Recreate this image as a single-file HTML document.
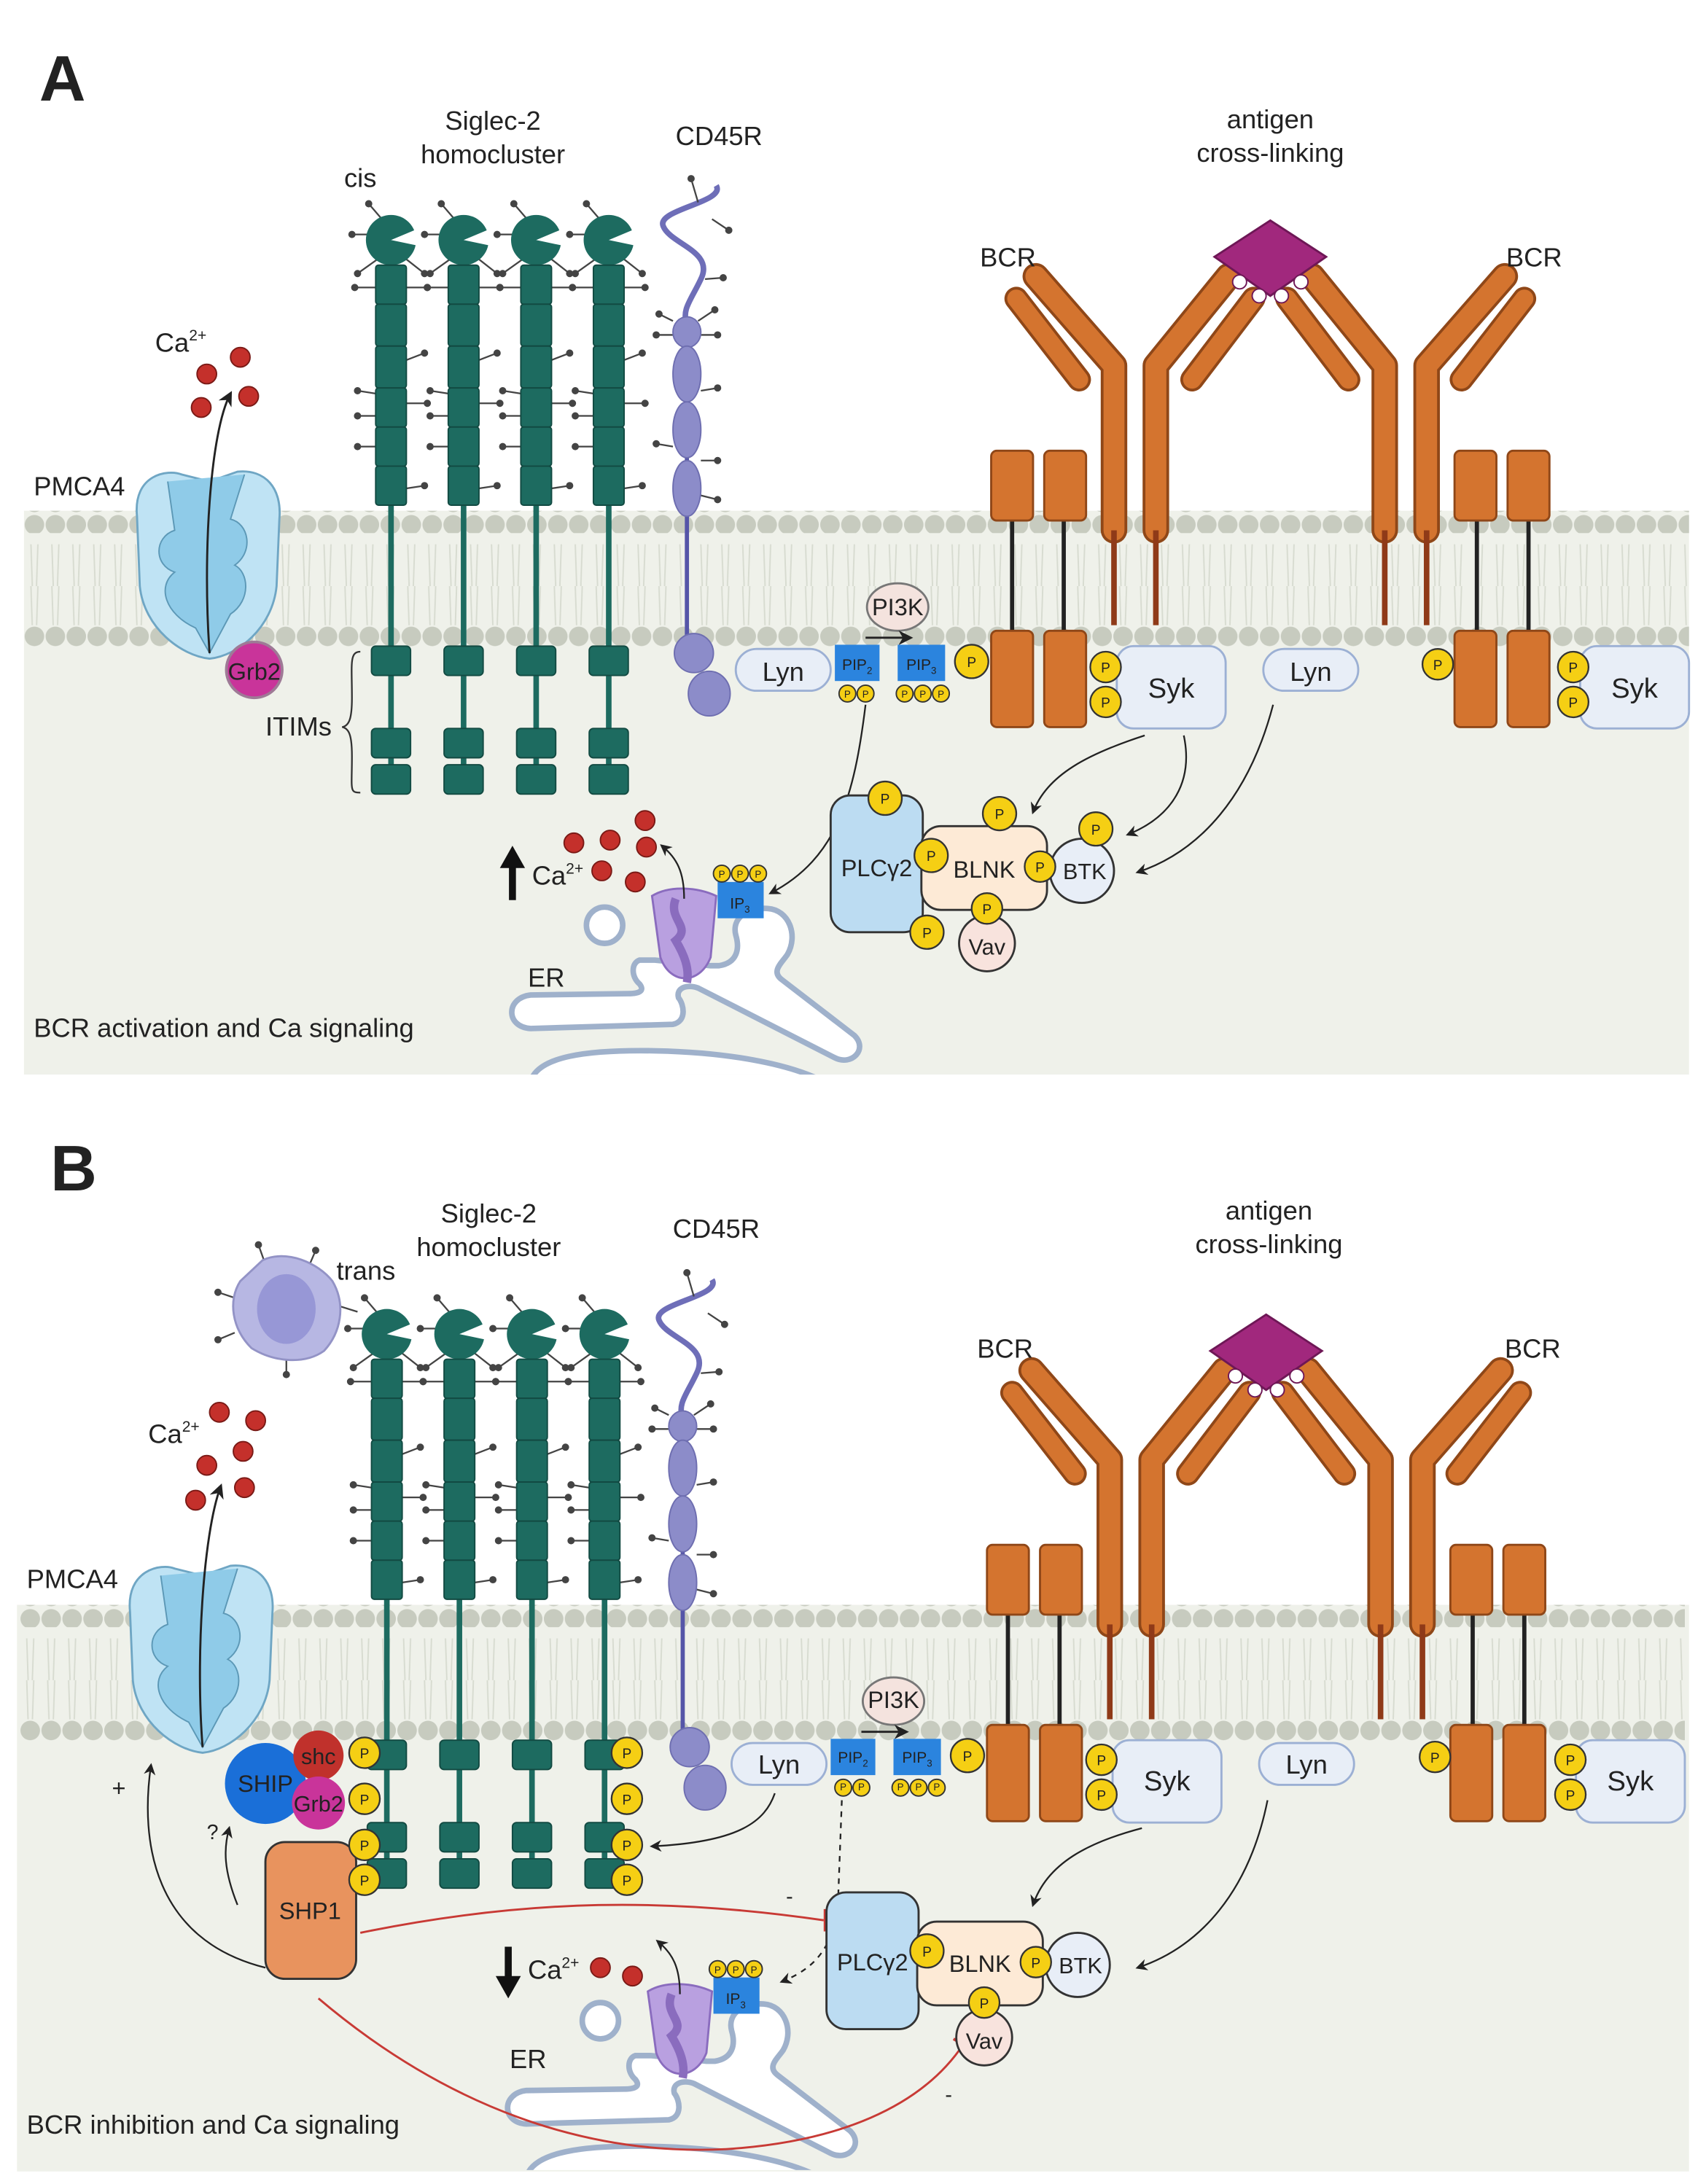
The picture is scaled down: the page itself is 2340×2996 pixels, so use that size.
<!DOCTYPE html>
<html><head><meta charset="utf-8"><style>
html,body{margin:0;padding:0;background:#fff}
svg{display:block}
text{font-family:"Liberation Sans",sans-serif;fill:#222}
</style></head><body>
<svg width="2340" height="2996" viewBox="0 0 1222 1565" xmlns="http://www.w3.org/2000/svg">
<defs>
<clipPath id="erclip"><rect x="17" y="560" width="1193" height="210"/></clipPath>
<pattern id="heads" x="17" y="0" width="15" height="16" patternUnits="userSpaceOnUse"><circle cx="7.5" cy="8" r="7" fill="#c7cbbf"/></pattern>
<pattern id="tails" x="17" y="0" width="15" height="70" patternUnits="userSpaceOnUse"><path d="M5 0 L6 30 M10 0 L9 30 M5 40 L6 70 M10 40 L9 70" stroke="#d7dbd0" stroke-width="1" fill="none"/></pattern>
<marker id="ar" viewBox="0 0 10 10" refX="8" refY="5" markerWidth="7" markerHeight="7" orient="auto"><path d="M0 0 L10 5 L0 10 L3 5Z" fill="#222"/></marker>
<g id="sig">
 <line x1="0" y1="360" x2="0" y2="568" stroke="#1d6b60" stroke-width="4"/>
 <g stroke="#444" stroke-width="1.2" fill="#444">
  <line x1="-4" y1="160" x2="-16" y2="146"/><circle cx="-16" cy="146" r="2"/>
  <line x1="10" y1="185" x2="24" y2="196"/><circle cx="24" cy="196" r="2"/>
  <line x1="-10" y1="186" x2="-24" y2="196"/><circle cx="-24" cy="196" r="2"/>
  <line x1="-12" y1="168" x2="-28" y2="168"/><circle cx="-28" cy="168" r="2"/>
  <line x1="11" y1="206" x2="26" y2="206"/><circle cx="26" cy="206" r="2"/>
  <line x1="-11" y1="206" x2="-26" y2="206"/><circle cx="-26" cy="206" r="2"/>
  <line x1="11" y1="258" x2="24" y2="253"/><circle cx="24" cy="253" r="2"/>
  <line x1="-11" y1="282" x2="-24" y2="280"/><circle cx="-24" cy="280" r="2"/>
  <line x1="11" y1="289" x2="26" y2="289"/><circle cx="26" cy="289" r="2"/>
  <line x1="-11" y1="298" x2="-24" y2="298"/><circle cx="-24" cy="298" r="2"/>
  <line x1="-11" y1="320" x2="-24" y2="320"/><circle cx="-24" cy="320" r="2"/>
  <line x1="11" y1="350" x2="24" y2="348"/><circle cx="24" cy="348" r="2"/>
 </g>
 <circle cx="0" cy="172" r="18" fill="#1d6b60"/>
 <path d="M0 172 L19 164 L19 176Z" fill="#fff"/>
 <g fill="#1d6b60" stroke="#124a42" stroke-width="1">
  <rect x="-11" y="190" width="22" height="28" rx="2"/><rect x="-11" y="218" width="22" height="30" rx="2"/>
  <rect x="-11" y="248" width="22" height="30" rx="2"/><rect x="-11" y="278" width="22" height="28" rx="2"/>
  <rect x="-11" y="306" width="22" height="28" rx="2"/><rect x="-11" y="334" width="22" height="28" rx="2"/>
  <rect x="-14" y="463" width="28" height="21" rx="3"/><rect x="-14" y="522" width="28" height="21" rx="3"/>
  <rect x="-14" y="548" width="28" height="21" rx="3"/>
 </g>
</g>
<g id="bcr">
 <g stroke-linecap="round" stroke-linejoin="round" fill="none">
  <path d="M798 380 L798 262 L742 198" stroke="#8f4718" stroke-width="19"/>
  <path d="M798 380 L798 262 L742 198" stroke="#d4742f" stroke-width="15"/>
  <path d="M828 380 L828 262 L880 198" stroke="#8f4718" stroke-width="19"/>
  <path d="M828 380 L828 262 L880 198" stroke="#d4742f" stroke-width="15"/>
  <path d="M773 272 L728 214" stroke="#8f4718" stroke-width="17"/>
  <path d="M773 272 L728 214" stroke="#d4742f" stroke-width="13"/>
  <path d="M854 272 L898 214" stroke="#8f4718" stroke-width="17"/>
  <path d="M854 272 L898 214" stroke="#d4742f" stroke-width="13"/>
 </g>
 <line x1="798" y1="380" x2="798" y2="448" stroke="#8f3a18" stroke-width="4"/>
 <line x1="828" y1="380" x2="828" y2="448" stroke="#8f3a18" stroke-width="4"/>
 <line x1="725" y1="370" x2="725" y2="455" stroke="#222" stroke-width="3"/>
 <line x1="762" y1="370" x2="762" y2="455" stroke="#222" stroke-width="3"/>
 <g fill="#d4742f" stroke="#8f4718" stroke-width="1.5">
  <rect x="710" y="323" width="30" height="50" rx="4"/><rect x="748" y="323" width="30" height="50" rx="4"/>
  <rect x="710" y="452" width="30" height="69" rx="4"/><rect x="748" y="452" width="30" height="69" rx="4"/>
 </g>
</g>
<g id="mem">
 <rect x="17" y="366" width="1193" height="16" fill="url(#heads)"/>
 <rect x="17" y="382" width="1193" height="66" fill="url(#tails)"/>
 <rect x="17" y="448" width="1193" height="16" fill="url(#heads)"/>
 <use href="#sig" x="280"/><use href="#sig" x="332"/><use href="#sig" x="384"/><use href="#sig" x="436"/>
 <path d="M513 133 C520 145 470 150 475 162 C480 175 512 180 502 200 C495 215 488 222 492 232" stroke="#6e6eb8" stroke-width="4" fill="none"/>
 <line x1="492" y1="240" x2="492" y2="462" stroke="#5555a8" stroke-width="3"/>
 <g stroke="#444" stroke-width="1.2" fill="#444">
  <line x1="500" y1="145" x2="495" y2="128"/><circle cx="495" cy="128" r="2"/>
  <line x1="510" y1="157" x2="522" y2="165"/><circle cx="522" cy="165" r="2"/>
  <line x1="505" y1="200" x2="518" y2="199"/><circle cx="518" cy="199" r="2"/>
  <line x1="482" y1="230" x2="472" y2="225"/><circle cx="472" cy="225" r="2"/>
  <line x1="500" y1="230" x2="512" y2="222"/><circle cx="512" cy="222" r="2"/>
  <line x1="482" y1="240" x2="470" y2="240"/><circle cx="470" cy="240" r="2"/>
  <line x1="502" y1="240" x2="514" y2="240"/><circle cx="514" cy="240" r="2"/>
  <line x1="502" y1="280" x2="514" y2="278"/><circle cx="514" cy="278" r="2"/>
  <line x1="482" y1="320" x2="470" y2="318"/><circle cx="470" cy="318" r="2"/>
  <line x1="502" y1="330" x2="514" y2="330"/><circle cx="514" cy="330" r="2"/>
  <line x1="502" y1="355" x2="514" y2="358"/><circle cx="514" cy="358" r="2"/>
 </g>
 <g fill="#8c8cc9" stroke="#6e6eb0" stroke-width="1">
  <ellipse cx="492" cy="238" rx="10" ry="11"/><ellipse cx="492" cy="268" rx="10" ry="20"/>
  <ellipse cx="492" cy="308" rx="10" ry="20"/><ellipse cx="492" cy="350" rx="10" ry="20"/>
  <circle cx="497" cy="468" r="14"/><ellipse cx="508" cy="497" rx="15" ry="16"/>
 </g>
 <use href="#bcr"/>
 <use href="#bcr" transform="translate(1820,0) scale(-1,1)"/>
 <path d="M910 158 L950 184 L910 212 L870 184Z" fill="#a1287d" stroke="#6e1756" stroke-width="1.5"/>
 <g fill="#fff" stroke="#6e1756" stroke-width="1"><circle cx="888" cy="202" r="5"/><circle cx="902" cy="212" r="5"/><circle cx="918" cy="212" r="5"/><circle cx="932" cy="202" r="5"/></g>
 <g fill="#e8eef7" stroke="#9cb0d4" stroke-width="1.5">
  <rect x="800" y="463" width="78" height="59" rx="12"/><rect x="1132" y="463" width="78" height="59" rx="12"/>
  <rect x="527" y="465" width="68" height="30" rx="15"/><rect x="905" y="465" width="68" height="30" rx="15"/>
 </g>
 <ellipse cx="643" cy="435" rx="22" ry="17" fill="#f4e3de" stroke="#777" stroke-width="1.5"/>
 <line x1="620" y1="457" x2="652" y2="457" stroke="#222" stroke-width="1.5" marker-end="url(#ar)"/>
 <rect x="598" y="462" width="32" height="26" fill="#2b84de"/><rect x="643" y="462" width="34" height="26" fill="#2b84de"/>
 <g fill="#f5cf14" stroke="#333" stroke-width="1">
  <circle cx="607" cy="497" r="6"/><circle cx="620" cy="497" r="6"/>
  <circle cx="648" cy="497" r="6"/><circle cx="661" cy="497" r="6"/><circle cx="674" cy="497" r="6"/>
 </g>
</g>
<g id="er">
 <g clip-path="url(#erclip)" fill="#fff" stroke="#9fb1cb" stroke-width="4">
  <circle cx="433" cy="663" r="13"/>
  <path d="M380 775 C385 757 420 752 470 753 C520 754 565 762 590 775 Z"/>
  <path d="M469 688 L458 688 C452 690 452 700 458 705 C462 710 458 712 450 712 L380 713 C362 715 362 736 380 737 L482 734 C492 732 490 720 486 715 C484 708 492 705 500 708 L598 758 C610 764 622 752 612 742 L560 702 C552 696 560 690 564 684 C572 670 565 652 550 651 C535 650 524 658 527 670 C530 680 528 690 515 692 L509 692 Z"/>
 </g>
 <path d="M467 642 C480 634 500 636 513 642 L509 686 C501 706 480 706 473 686Z" fill="#b9a0e0" stroke="#8a6cbe" stroke-width="1.5"/>
 <path d="M484 644 C478 659 496 664 484 674 C490 684 494 694 492 704" stroke="#8a6cbe" stroke-width="6" fill="none"/>
 <path d="M490 644 C490 625 485 615 474 606" stroke="#222" stroke-width="1.2" fill="none" marker-end="url(#ar)"/>
 <rect x="514" y="632" width="33" height="26" fill="#2b84de"/>
 <g fill="#f5cf14" stroke="#333" stroke-width="1"><circle cx="517" cy="626" r="6"/><circle cx="530" cy="626" r="6"/><circle cx="543" cy="626" r="6"/></g>
</g>
</defs>

<!-- backgrounds -->
<rect x="17" y="366" width="1193" height="404" fill="#eff1ea"/>
<rect x="12" y="1150" width="1198" height="406" fill="#eff1ea"/>

<!-- ===== PANEL A ===== -->
<use href="#mem"/>
<text x="28" y="72" font-size="46" font-weight="bold" fill="#000">A</text>
<text x="353" y="93" font-size="19" text-anchor="middle">Siglec-2</text>
<text x="353" y="117" font-size="19" text-anchor="middle">homocluster</text>
<text x="258" y="134" font-size="19" text-anchor="middle">cis</text>
<text x="515" y="104" font-size="19" text-anchor="middle">CD45R</text>
<text x="910" y="92" font-size="19" text-anchor="middle">antigen</text>
<text x="910" y="116" font-size="19" text-anchor="middle">cross-linking</text>
<text x="722" y="191" font-size="19" text-anchor="middle">BCR</text>
<text x="1099" y="191" font-size="19" text-anchor="middle">BCR</text>
<text x="24" y="355" font-size="19">PMCA4</text>
<text x="111" y="252" font-size="19">Ca<tspan font-size="11" dy="-8">2+</tspan></text>
<g fill="#c4302b" stroke="#7a1a16" stroke-width="1"><circle cx="148" cy="268" r="7"/><circle cx="172" cy="256" r="7"/><circle cx="144" cy="292" r="7"/><circle cx="178" cy="284" r="7"/></g>
<path d="M98 370 C95 340 120 336 130 340 L150 345 L170 338 C190 336 202 350 200 372 L198 420 C195 450 170 470 150 472 C130 470 103 450 100 420Z" fill="#bfe3f4" stroke="#6fa6c4" stroke-width="1.5"/>
<path d="M120 345 L125 380 C110 385 110 405 125 410 C112 420 118 440 140 450 L150 468 L165 440 C180 430 178 410 168 405 C182 395 178 375 165 372 L175 340" fill="#8fcbe8" stroke="#5c98b6" stroke-width="1"/>
<path d="M150 468 C145 400 150 310 165 282" stroke="#222" stroke-width="1.5" fill="none" marker-end="url(#ar)"/>
<circle cx="182" cy="480" r="20" fill="#c9349a" stroke="#9e7a96" stroke-width="2"/>
<text x="182" y="487" font-size="17" text-anchor="middle" fill="#f1d8ea">Grb2</text>
<text x="190" y="527" font-size="19">ITIMs</text>
<path d="M258 467 C250 467 252 476 252 500 C252 515 250 520 245 521 C250 522 252 527 252 542 C252 566 250 568 258 568" stroke="#333" stroke-width="1.2" fill="none"/>
<text x="561" y="488" font-size="19" text-anchor="middle">Lyn</text>
<text x="939" y="488" font-size="19" text-anchor="middle">Lyn</text>
<text x="839" y="500" font-size="20" text-anchor="middle">Syk</text>
<text x="1171" y="500" font-size="20" text-anchor="middle">Syk</text>
<text x="643" y="441" font-size="17" text-anchor="middle">PI3K</text>
<text x="614" y="480" font-size="11" text-anchor="middle" fill="#d6e8fb">PIP<tspan font-size="7" dy="3">2</tspan></text>
<text x="660" y="480" font-size="11" text-anchor="middle" fill="#d6e8fb">PIP<tspan font-size="7" dy="3">3</tspan></text>
<g fill="#f5cf14" stroke="#333" stroke-width="1.2">
 <circle cx="696" cy="474" r="12"/><circle cx="792" cy="478" r="11"/><circle cx="792" cy="503" r="11"/>
 <circle cx="1030" cy="476" r="11"/><circle cx="1127" cy="478" r="11"/><circle cx="1127" cy="503" r="11"/>
</g>
<g font-size="10" text-anchor="middle"><text x="696" y="478">P</text><text x="792" y="482">P</text><text x="792" y="507">P</text><text x="1030" y="480">P</text><text x="1127" y="482">P</text><text x="1127" y="507">P</text>
<text x="607" y="500" font-size="7">P</text><text x="620" y="500" font-size="7">P</text><text x="648" y="500" font-size="7">P</text><text x="661" y="500" font-size="7">P</text><text x="674" y="500" font-size="7">P</text></g>
<g stroke="#222" stroke-width="1.2" fill="none" marker-end="url(#ar)">
 <path d="M820 527 C780 540 750 555 740 582"/>
 <path d="M848 527 C855 560 840 585 808 598"/>
 <path d="M912 505 C895 570 860 610 815 625"/>
 <path d="M620 505 C612 570 600 615 552 640"/>
</g>
<rect x="595" y="570" width="66" height="98" rx="14" fill="#bcdcf2" stroke="#333" stroke-width="1.5"/>
<rect x="660" y="592" width="90" height="60" rx="14" fill="#fdead6" stroke="#333" stroke-width="1.5"/>
<circle cx="775" cy="624" r="23" fill="#e8eef7" stroke="#333" stroke-width="1.5"/>
<circle cx="707" cy="676" r="20" fill="#f8e3dd" stroke="#333" stroke-width="1.5"/>
<text x="628" y="628" font-size="17" text-anchor="middle">PLCγ2</text>
<text x="705" y="629" font-size="17" text-anchor="middle">BLNK</text>
<text x="777" y="630" font-size="16" text-anchor="middle">BTK</text>
<text x="707" y="684" font-size="16" text-anchor="middle">Vav</text>
<g fill="#f5cf14" stroke="#333" stroke-width="1.2">
 <circle cx="634" cy="572" r="12"/><circle cx="667" cy="613" r="12"/><circle cx="716" cy="583" r="12"/><circle cx="745" cy="621" r="11"/><circle cx="785" cy="594" r="12"/><circle cx="707" cy="651" r="11"/><circle cx="664" cy="668" r="12"/>
</g>
<g font-size="10" text-anchor="middle"><text x="634" y="576">P</text><text x="667" y="617">P</text><text x="716" y="587">P</text><text x="745" y="625">P</text><text x="785" y="598">P</text><text x="707" y="655">P</text><text x="664" y="672">P</text></g>
<!-- A ER -->
<use href="#er"/>
<text x="530" y="651" font-size="11" text-anchor="middle" fill="#d6e8fb">IP<tspan font-size="7" dy="3">3</tspan></text>
<g font-size="7" text-anchor="middle"><text x="517" y="629">P</text><text x="530" y="629">P</text><text x="543" y="629">P</text></g>
<g fill="#c4302b" stroke="#7a1a16" stroke-width="1"><circle cx="411" cy="604" r="7"/><circle cx="437" cy="602" r="7"/><circle cx="462" cy="588" r="7"/><circle cx="463" cy="607" r="7"/><circle cx="431" cy="624" r="7"/><circle cx="455" cy="632" r="7"/></g>
<path d="M367 645 L367 620" stroke="#111" stroke-width="5"/><path d="M358 622 L367 606 L376 622Z" fill="#111"/>
<text x="381" y="634" font-size="19">Ca<tspan font-size="11" dy="-8">2+</tspan></text>
<text x="378" y="707" font-size="19">ER</text>
<text x="24" y="743" font-size="19">BCR activation and Ca signaling</text>

<!-- ===== PANEL B ===== -->
<use href="#mem" transform="translate(-3,784)"/>
<text x="36" y="853" font-size="46" font-weight="bold" fill="#000">B</text>
<text x="350" y="876" font-size="19" text-anchor="middle">Siglec-2</text>
<text x="350" y="900" font-size="19" text-anchor="middle">homocluster</text>
<text x="262" y="917" font-size="19" text-anchor="middle">trans</text>
<text x="513" y="887" font-size="19" text-anchor="middle">CD45R</text>
<text x="909" y="874" font-size="19" text-anchor="middle">antigen</text>
<text x="909" y="898" font-size="19" text-anchor="middle">cross-linking</text>
<text x="720" y="973" font-size="19" text-anchor="middle">BCR</text>
<text x="1098" y="973" font-size="19" text-anchor="middle">BCR</text>
<text x="19" y="1138" font-size="19">PMCA4</text>
<text x="106" y="1034" font-size="19">Ca<tspan font-size="11" dy="-8">2+</tspan></text>
<g stroke="#444" stroke-width="1.2" fill="#444"><line x1="190" y1="906" x2="185" y2="892"/><circle cx="185" cy="892" r="2"/><line x1="220" y1="910" x2="226" y2="896"/><circle cx="226" cy="896" r="2"/><line x1="168" y1="930" x2="156" y2="926"/><circle cx="156" cy="926" r="2"/><line x1="168" y1="955" x2="156" y2="960"/><circle cx="156" cy="960" r="2"/><line x1="205" y1="972" x2="205" y2="985"/><circle cx="205" cy="985" r="2"/><line x1="240" y1="935" x2="256" y2="940"/></g>
<path d="M188 903 C205 895 228 905 238 918 C248 935 244 955 232 968 C218 978 196 976 180 966 C166 952 163 932 172 918Z" fill="#b7b7e3" stroke="#9393c6" stroke-width="1.5"/>
<ellipse cx="205" cy="938" rx="21" ry="25" fill="#9797d6"/>
<g fill="#c4302b" stroke="#7a1a16" stroke-width="1"><circle cx="157" cy="1012" r="7"/><circle cx="183" cy="1018" r="7"/><circle cx="174" cy="1040" r="7"/><circle cx="148" cy="1050" r="7"/><circle cx="175" cy="1066" r="7"/><circle cx="140" cy="1075" r="7"/></g>
<path d="M93 1155 C90 1125 115 1120 125 1124 L145 1129 L165 1122 C185 1120 197 1134 195 1156 L193 1204 C190 1234 165 1254 145 1256 C125 1254 98 1234 95 1204Z" fill="#bfe3f4" stroke="#6fa6c4" stroke-width="1.5"/>
<path d="M115 1129 L120 1164 C105 1169 105 1189 120 1194 C107 1204 113 1224 135 1234 L145 1252 L160 1224 C175 1214 173 1194 163 1189 C177 1179 173 1159 160 1156 L170 1124" fill="#8fcbe8" stroke="#5c98b6" stroke-width="1"/>
<path d="M145 1252 C140 1190 145 1100 158 1065" stroke="#222" stroke-width="1.5" fill="none" marker-end="url(#ar)"/>
<circle cx="190" cy="1278" r="29" fill="#1a6fd8"/>
<text x="190" y="1284" font-size="17" text-anchor="middle" fill="#e6efff">SHIP</text>
<circle cx="228" cy="1258" r="18" fill="#c0312c"/>
<text x="228" y="1264" font-size="16" text-anchor="middle" fill="#f5dcdc">shc</text>
<circle cx="228" cy="1292" r="19" fill="#c9349a"/>
<text x="228" y="1298" font-size="16" text-anchor="middle" fill="#f5dcee">Grb2</text>
<rect x="190" y="1320" width="65" height="98" rx="14" fill="#e8935e" stroke="#333" stroke-width="1.5"/>
<text x="222" y="1375" font-size="17" text-anchor="middle">SHP1</text>
<g fill="#f5cf14" stroke="#333" stroke-width="1.2">
 <circle cx="261" cy="1256" r="11"/><circle cx="261" cy="1289" r="11"/><circle cx="261" cy="1322" r="11"/><circle cx="261" cy="1347" r="11"/>
 <circle cx="449" cy="1256" r="11"/><circle cx="449" cy="1289" r="11"/><circle cx="449" cy="1322" r="11"/><circle cx="449" cy="1347" r="11"/>
 <circle cx="693" cy="1258" r="12"/><circle cx="789" cy="1261" r="11"/><circle cx="789" cy="1286" r="11"/>
 <circle cx="1028" cy="1259" r="11"/><circle cx="1125" cy="1261" r="11"/><circle cx="1125" cy="1286" r="11"/>
</g>
<g font-size="10" text-anchor="middle"><text x="261" y="1260">P</text><text x="261" y="1293">P</text><text x="261" y="1326">P</text><text x="261" y="1351">P</text><text x="449" y="1260">P</text><text x="449" y="1293">P</text><text x="449" y="1326">P</text><text x="449" y="1351">P</text><text x="693" y="1262">P</text><text x="789" y="1265">P</text><text x="789" y="1290">P</text><text x="1028" y="1263">P</text><text x="1125" y="1265">P</text><text x="1125" y="1290">P</text>
<text x="604" y="1283" font-size="7">P</text><text x="617" y="1283" font-size="7">P</text><text x="645" y="1283" font-size="7">P</text><text x="658" y="1283" font-size="7">P</text><text x="671" y="1283" font-size="7">P</text></g>
<text x="558" y="1271" font-size="19" text-anchor="middle">Lyn</text>
<text x="936" y="1271" font-size="19" text-anchor="middle">Lyn</text>
<text x="836" y="1283" font-size="20" text-anchor="middle">Syk</text>
<text x="1168" y="1283" font-size="20" text-anchor="middle">Syk</text>
<text x="640" y="1224" font-size="17" text-anchor="middle">PI3K</text>
<text x="611" y="1263" font-size="11" text-anchor="middle" fill="#d6e8fb">PIP<tspan font-size="7" dy="3">2</tspan></text>
<text x="657" y="1263" font-size="11" text-anchor="middle" fill="#d6e8fb">PIP<tspan font-size="7" dy="3">3</tspan></text>
<g stroke="#222" stroke-width="1.2" fill="none" marker-end="url(#ar)">
 <path d="M555 1285 C548 1305 530 1320 467 1323"/>
 <path d="M818 1310 C780 1320 750 1335 740 1365"/>
 <path d="M908 1290 C895 1355 860 1395 815 1410"/>
 <path d="M190 1410 C110 1390 100 1320 108 1265"/>
 <path d="M170 1365 C160 1340 160 1325 164 1310"/>
 <path d="M603 1290 L600 1370 C595 1395 585 1410 560 1420" stroke-dasharray="4 4"/>
</g>
<text x="80" y="1287" font-size="17">+</text>
<text x="148" y="1318" font-size="15">?</text>
<text x="563" y="1364" font-size="15">-</text>
<text x="677" y="1506" font-size="15">-</text>
<!-- B ER -->
<use href="#er" transform="translate(-3,785)"/>
<text x="527" y="1436" font-size="11" text-anchor="middle" fill="#d6e8fb">IP<tspan font-size="7" dy="3">3</tspan></text>
<g font-size="7" text-anchor="middle"><text x="514" y="1414">P</text><text x="527" y="1414">P</text><text x="540" y="1414">P</text></g>
<path d="M258 1385 C380 1360 480 1360 590 1376" stroke="#c83a35" stroke-width="1.5" fill="none"/>
<line x1="591" y1="1368" x2="591" y2="1384" stroke="#c83a35" stroke-width="2"/>
<path d="M228 1432 C320 1510 420 1545 520 1540 C600 1535 660 1510 690 1465" stroke="#c83a35" stroke-width="1.5" fill="none"/>
<line x1="683" y1="1461" x2="697" y2="1469" stroke="#c83a35" stroke-width="2"/>
<rect x="592" y="1356" width="66" height="98" rx="14" fill="#bcdcf2" stroke="#333" stroke-width="1.5"/>
<rect x="657" y="1377" width="90" height="60" rx="14" fill="#fdead6" stroke="#333" stroke-width="1.5"/>
<circle cx="772" cy="1408" r="23" fill="#e8eef7" stroke="#333" stroke-width="1.5"/>
<circle cx="705" cy="1460" r="20" fill="#f8e3dd" stroke="#333" stroke-width="1.5"/>
<text x="625" y="1412" font-size="17" text-anchor="middle">PLCγ2</text>
<text x="702" y="1413" font-size="17" text-anchor="middle">BLNK</text>
<text x="774" y="1414" font-size="16" text-anchor="middle">BTK</text>
<text x="705" y="1468" font-size="16" text-anchor="middle">Vav</text>
<g fill="#f5cf14" stroke="#333" stroke-width="1.2"><circle cx="664" cy="1398" r="12"/><circle cx="742" cy="1406" r="11"/><circle cx="705" cy="1435" r="11"/></g>
<g font-size="10" text-anchor="middle"><text x="664" y="1402">P</text><text x="742" y="1410">P</text><text x="705" y="1439">P</text></g>
<g fill="#c4302b" stroke="#7a1a16" stroke-width="1"><circle cx="430" cy="1410" r="7"/><circle cx="453" cy="1416" r="7"/></g>
<path d="M364 1395 L364 1418" stroke="#111" stroke-width="5"/><path d="M355 1416 L364 1432 L373 1416Z" fill="#111"/>
<text x="378" y="1418" font-size="19">Ca<tspan font-size="11" dy="-8">2+</tspan></text>
<text x="365" y="1482" font-size="19">ER</text>
<text x="19" y="1529" font-size="19">BCR inhibition and Ca signaling</text>
</svg>
</body></html>
